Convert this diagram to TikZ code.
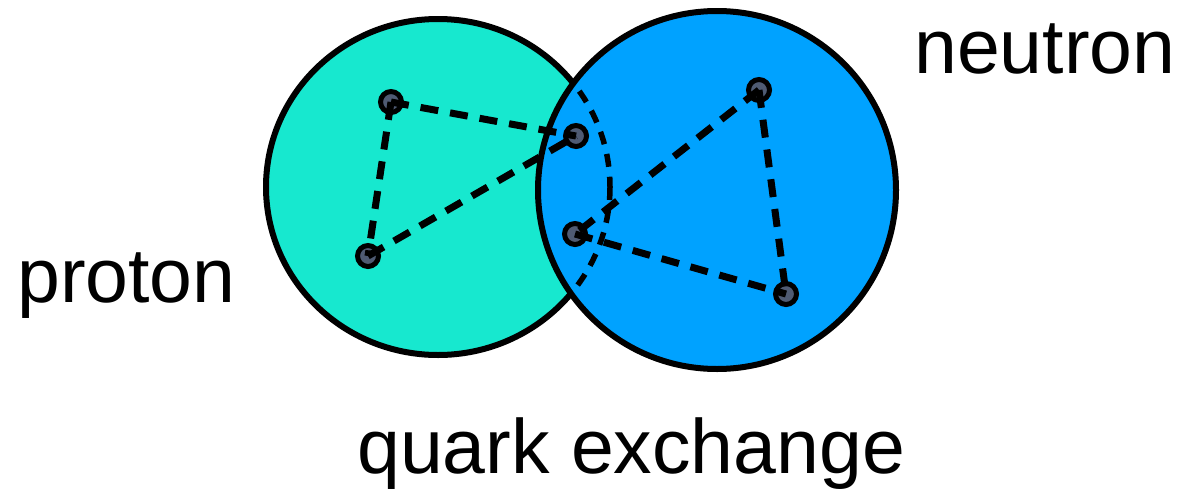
\documentclass[tikz,border=0pt]{standalone}
\usepackage{fontspec}
\setmainfont{Liberation Sans}
\usetikzlibrary{positioning}
\definecolor{protonfill}{HTML}{17E8CF}
\definecolor{neutronfill}{HTML}{00A2FF}
\definecolor{quarkfill}{HTML}{4F5B73}

\begin{document}
\begin{tikzpicture}[
  x=1pt,y=-1pt,
  nucleon/.style={draw=black,line width=6pt},
  hidden/.style={draw=black,line width=5.5pt,dash pattern=on 13pt off 10pt},
  quark/.style={circle,draw=black,line width=5pt,fill=quarkfill,minimum size=21pt,inner sep=0pt},
  qline/.style={draw=black,line width=7pt,dash pattern=on 18pt off 12pt},
  lbl/.style={font=\fontsize{77}{92}\selectfont,anchor=base west,inner sep=0pt}
]
\useasboundingbox (0,0) rectangle (1181,493);
\coordinate (pc) at (438,187);
\coordinate (nc) at (717,190);
% the two nucleons
\draw[nucleon,fill=protonfill] (pc) ellipse [x radius=172,y radius=168];
\draw[nucleon,fill=neutronfill] (nc) circle (179);
% proton edge seen through the neutron
\begin{scope}
  \clip (nc) circle (176);
  \draw[hidden] (pc) ellipse [x radius=172,y radius=168];
\end{scope}
% quarks
\node[quark] (p1) at (391,102) {};
\node[quark] (p2) at (368,256) {};
\node[quark] (p3) at (576,136) {};
\node[quark] (n1) at (759,90) {};
\node[quark] (n2) at (786,294) {};
\node[quark] (n3) at (575,234) {};
\draw[qline] (p1.center) -- (p3.center);
\draw[qline] (p1.center) -- (p2.center);
\draw[qline] (p2.center) -- (p3.center);
\draw[qline] (n1.center) -- (n2.center);
\draw[qline] (n1.center) -- (n3.center);
\draw[qline] (n3.center) -- (n2.center);
% labels
\node[lbl] (neutron) at (914,73) {neutron};
\node[lbl] (proton) at (17,302) {proton};
\node[lbl] (exchange) at (357,473) {quark exchange};
\end{tikzpicture}
\end{document}
